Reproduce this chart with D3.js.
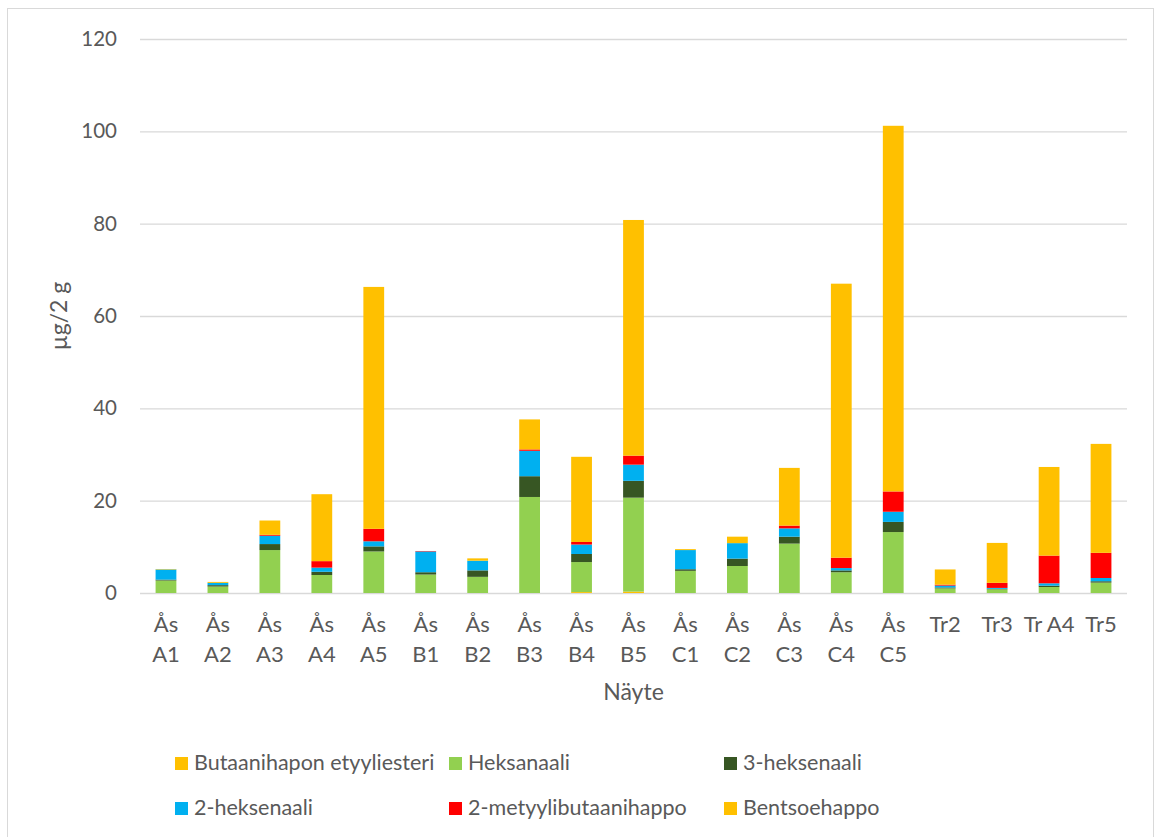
<!DOCTYPE html>
<html>
<head>
<meta charset="utf-8">
<script src="https://cdn.jsdelivr.net/npm/d3@7"></script>
<style>
  html, body { margin: 0; padding: 0; background: #fff; }
  svg text { font-family: "Lato", "Open Sans", sans-serif; fill: #595959; }
</style>
</head>
<body>
<svg id="chart" width="1156" height="837"></svg>
<script>
// Sample names; "\n" marks where a tick label wraps onto a second line
const categories = ["Ås\nA1","Ås\nA2","Ås\nA3","Ås\nA4","Ås\nA5","Ås\nB1","Ås\nB2","Ås\nB3","Ås\nB4","Ås\nB5",
                    "Ås\nC1","Ås\nC2","Ås\nC3","Ås\nC4","Ås\nC5","Tr2","Tr3","Tr A4","Tr5"];

// Amounts per compound, µg / 2 g
const butaanihaponEtyyliesteri = [0,0,0,0,0,0,0,0,0.2,0.3,0,0,0,0,0,0,0,0,0];
const heksanaali      = [2.7,1.4,9.3,3.9,9.0,4.0,3.5,20.8,6.5,20.35,4.8,5.85,10.7,4.5,13.2,1.0,0.8,1.3,2.25];
const heksenaali3     = [0.2,0.3,1.3,0.7,1.1,0.5,1.4,4.5,1.75,3.65,0.35,1.6,1.5,0.4,2.2,0.2,0.1,0.3,0.3];
const heksenaali2     = [2.2,0.5,1.8,0.9,1.1,4.5,2.1,5.5,2.05,3.5,4.15,3.35,1.8,0.5,2.2,0.4,0.2,0.5,0.7];
const metyylibutaani  = [0,0,0.2,1.4,2.7,0.1,0,0.3,0.55,1.95,0,0,0.6,2.25,4.4,0.2,1.1,6.0,5.45];
const bentsoehappo    = [0.1,0.2,3.1,14.5,52.4,0,0.5,6.5,18.45,51.05,0.2,1.4,12.5,59.35,79.2,3.3,8.65,19.2,23.6];

const seriesNames = ["Butaanihapon etyyliesteri","Heksanaali","3-heksenaali","2-heksenaali","2-metyylibutaanihappo","Bentsoehappo"];
const seriesValues = [butaanihaponEtyyliesteri, heksanaali, heksenaali3, heksenaali2, metyylibutaani, bentsoehappo];
const seriesColors = ["#FFC000","#92D050","#375623","#00B0F0","#FF0000","#FFC000"];

const yTicks = [0,20,40,60,80,100,120];

const svg = d3.select("#chart");

// outer chart frame
svg.append("rect")
  .attr("x", 7.5).attr("y", 8.5).attr("width", 1146).attr("height", 840)
  .attr("fill", "none").attr("stroke", "#d9d9d9").attr("stroke-width", 1);

const plot = { left: 140, right: 1127, top: 39, bottom: 593 };

const x = d3.scaleBand()
  .domain(d3.range(categories.length))
  .range([plot.left, plot.right])
  .paddingInner(0.6).paddingOuter(0.3);

const y = d3.scaleLinear().domain([0, 120]).range([plot.bottom, plot.top]);

// horizontal gridlines
const yAxis = d3.axisLeft(y).tickValues(yTicks).tickSize(-(plot.right - plot.left)).tickPadding(23);
const gy = svg.append("g").attr("transform", `translate(${plot.left},0)`).call(yAxis);
gy.select(".domain").remove();
gy.selectAll(".tick line").attr("stroke", "#d9d9d9").attr("stroke-width", 1.3);
gy.selectAll(".tick text").attr("font-size", 20.5).style("fill", "#595959");

// stacked bars
const table = categories.map((c, i) => {
  const row = { i };
  seriesNames.forEach((s, k) => row[s] = seriesValues[k][i]);
  return row;
});
const stack = d3.stack().keys(seriesNames)(table);

svg.append("g").selectAll("g")
  .data(stack)
  .join("g")
  .attr("fill", (d, k) => seriesColors[k])
  .selectAll("rect")
  .data(d => d)
  .join("rect")
  .attr("x", d => x(d.data.i))
  .attr("width", x.bandwidth())
  .attr("y", d => y(d[1]))
  .attr("height", d => Math.max(0, y(d[0]) - y(d[1])));

// category labels
const gx = svg.append("g");
categories.forEach((c, i) => {
  const lines = c.split("\n");
  const t = gx.append("text")
    .attr("x", x(i) + x.bandwidth() / 2)
    .attr("y", 632)
    .attr("text-anchor", "middle")
    .attr("font-size", 22);
  lines.forEach((ln, j) => {
    t.append("tspan").attr("x", x(i) + x.bandwidth() / 2).attr("dy", j === 0 ? 0 : 30).text(ln);
  });
});

// axis titles
svg.append("text")
  .attr("x", (plot.left + plot.right) / 2).attr("y", 700)
  .attr("text-anchor", "middle").attr("font-size", 23).text("Näyte");

svg.append("text")
  .attr("transform", `translate(67,${(plot.top + plot.bottom) / 2}) rotate(-90)`)
  .attr("text-anchor", "middle").attr("font-size", 23).text("µg/2 g");

// legend: three columns, two rows
const legendCols = [175, 449, 724];
const legendRows = [763, 808];
const legend = svg.append("g");
seriesNames.forEach((name, k) => {
  const lx = legendCols[k % 3], ly = legendRows[Math.floor(k / 3)];
  legend.append("rect")
    .attr("x", lx).attr("y", ly - 6).attr("width", 13).attr("height", 13)
    .attr("fill", seriesColors[k]);
  legend.append("text")
    .attr("x", lx + 19).attr("y", ly + 7)
    .attr("font-size", 21.5).text(name);
});
</script>
</body>
</html>
